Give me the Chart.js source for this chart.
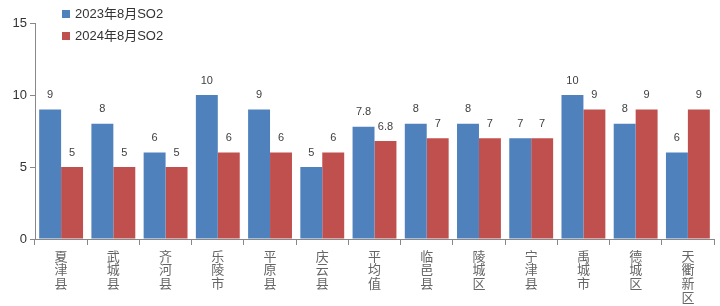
<!DOCTYPE html>
<html>
<head>
<meta charset="utf-8">
<script src="https://cdn.jsdelivr.net/npm/chart.js@4.4.0/dist/chart.umd.min.js"></script>
<style>
  html, body { margin: 0; padding: 0; background: #fff; }
  #wrap { position: relative; width: 720px; height: 306px; }
  .legend { position: absolute; left: 62px; font: 13px "Liberation Sans", Arial, "Noto Sans CJK SC", sans-serif; color: #333; }
  .legend span { display: inline-block; width: 8px; height: 8px; margin-right: 5px; vertical-align: 0px; }
</style>
</head>
<body>
<div id="wrap">
  <canvas id="c" width="720" height="306"></canvas>
  <div class="legend" style="top:3px"><span style="background:#4F81BD"></span>2023年8月SO2</div>
  <div class="legend" style="top:25px"><span style="background:#C0504D"></span>2024年8月SO2</div>
</div>
<script>
// 区县名称
const categories = ['夏津县', '武城县', '齐河县', '乐陵市', '平原县', '庆云县', '平均值',
                    '临邑县', '陵城区', '宁津县', '禹城市', '德城区', '天衢新区'];
const so2_2023 = [9, 8, 6, 10, 9, 5, 7.8, 8, 8, 7, 10, 8, 6];
const so2_2024 = [5, 5, 5, 6, 6, 6, 6.8, 7, 7, 7, 9, 9, 9];
const yTicks = [0, 5, 10, 15];

// 竖排标签：每个字一行
const verticalLabels = categories.map(name => name.split(''));

// 柱顶数值
const valueLabels = {
    id: 'valueLabels',
    afterDatasetsDraw(chart) {
        const ctx = chart.ctx;
        ctx.save();
        ctx.font = '11px "Liberation Sans", Arial, sans-serif';
        ctx.fillStyle = '#404040';
        ctx.textAlign = 'center';
        ctx.textBaseline = 'bottom';
        chart.data.datasets.forEach((ds, i) => {
            chart.getDatasetMeta(i).data.forEach((bar, j) => {
                ctx.fillText(String(ds.data[j]), bar.x, bar.y - 9);
            });
        });
        ctx.restore();
    }
};

new Chart(document.getElementById('c'), {
    type: 'bar',
    data: {
        labels: verticalLabels,
        datasets: [
            { label: '2023年8月SO2', data: so2_2023, backgroundColor: '#4F81BD' },
            { label: '2024年8月SO2', data: so2_2024, backgroundColor: '#C0504D' }
        ]
    },
    options: {
        responsive: false,
        animation: false,
        layout: { padding: { top: 23, right: 6, left: 0, bottom: 0 } },
        datasets: { bar: { categoryPercentage: 0.84, barPercentage: 1.0 } },
        plugins: { legend: { display: false }, tooltip: { enabled: false } },
        scales: {
            x: {
                grid: { display: true, drawOnChartArea: false, offset: true, tickLength: 6, color: '#888' },
                border: { color: '#888' },
                ticks: {
                    color: '#666',
                    font: { size: 13, family: '"Noto Sans CJK SC", sans-serif', lineHeight: 1.05 },
                    maxRotation: 0, minRotation: 0, autoSkip: false,
                    padding: 4
                },
                afterFit(scale) { scale.height = 67; }
            },
            y: {
                min: 0, max: 15,
                afterBuildTicks(scale) { scale.ticks = yTicks.map(v => ({ value: v })); },
                grid: { display: true, drawOnChartArea: false, tickLength: 5, color: '#888' },
                border: { color: '#888' },
                ticks: {
                    color: '#333',
                    font: { size: 13, family: '"Liberation Sans", Arial, sans-serif' },
                    padding: 3
                },
                afterFit(scale) { scale.width = 35; }
            }
        }
    },
    plugins: [valueLabels]
});
</script>
</body>
</html>
